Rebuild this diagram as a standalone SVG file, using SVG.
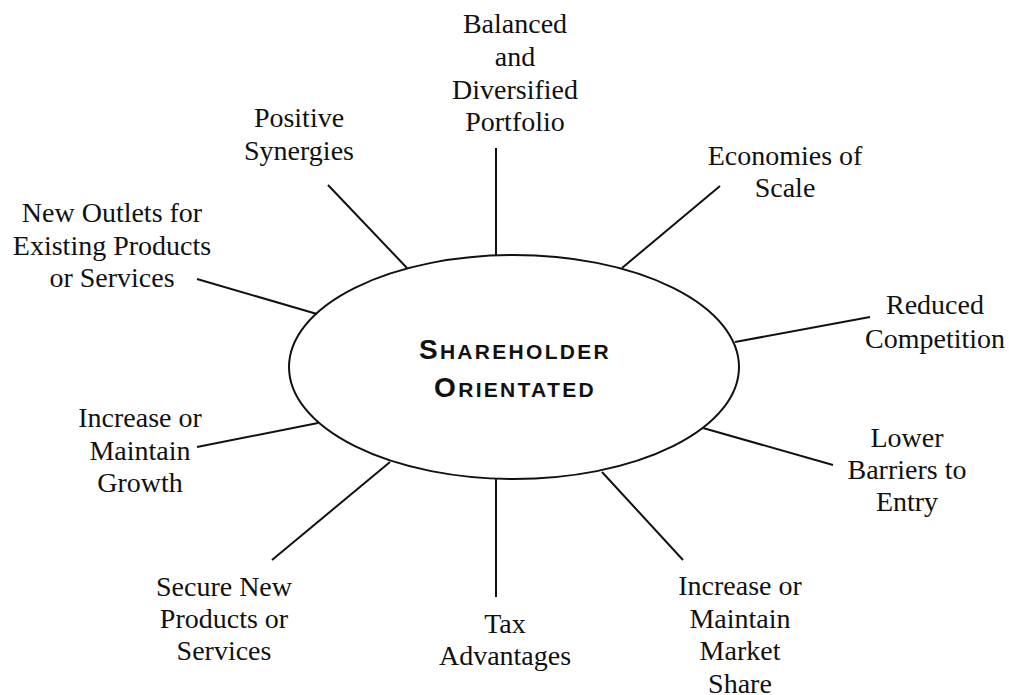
<svg xmlns="http://www.w3.org/2000/svg" width="1009" height="695" viewBox="0 0 1009 695">
<style>
.lbl{font-family:"Liberation Serif","Times New Roman",serif;font-size:28px;fill:#111;text-anchor:middle}
.ttl{font-family:"Liberation Sans",Arial,sans-serif;font-weight:bold;font-size:21px;fill:#111;text-anchor:middle;letter-spacing:2.3px}
.big{font-size:28px}
.ln{stroke:#111;stroke-width:2;fill:none}
</style>
<rect width="1009" height="695" fill="#fff"/>
<g id="connectors">
<line class="ln" x1="496" y1="148" x2="496" y2="256"/>
<line class="ln" x1="328" y1="185" x2="407" y2="268"/>
<line class="ln" x1="720" y1="186" x2="622" y2="268"/>
<line class="ln" x1="197" y1="279" x2="317" y2="314"/>
<line class="ln" x1="870" y1="317" x2="735" y2="342"/>
<line class="ln" x1="197" y1="447" x2="318" y2="423"/>
<line class="ln" x1="833" y1="465" x2="703" y2="428"/>
<line class="ln" x1="272" y1="560" x2="390" y2="462"/>
<line class="ln" x1="496" y1="479" x2="496" y2="597"/>
<line class="ln" x1="683" y1="560" x2="602" y2="472"/>
</g>
<g id="center">
<ellipse class="ln" cx="514" cy="367" rx="225" ry="112" fill="#fff"/>
<text class="ttl" x="515" y="359"><tspan class="big">S</tspan>HAREHOLDER</text>
<text class="ttl" x="515" y="397"><tspan class="big">O</tspan>RIENTATED</text>
</g>
<g id="balanced"><text class="lbl" x="515" y="33">Balanced</text><text class="lbl" x="515" y="66">and</text><text class="lbl" x="515" y="99">Diversified</text><text class="lbl" x="515" y="131">Portfolio</text></g>
<g id="synergies"><text class="lbl" x="299" y="127">Positive</text><text class="lbl" x="299" y="160">Synergies</text></g>
<g id="economies"><text class="lbl" x="785" y="165">Economies of</text><text class="lbl" x="785" y="197">Scale</text></g>
<g id="outlets"><text class="lbl" x="112" y="222">New Outlets for</text><text class="lbl" x="112" y="255">Existing Products</text><text class="lbl" x="112" y="287">or Services</text></g>
<g id="competition"><text class="lbl" x="935" y="314">Reduced</text><text class="lbl" x="935" y="348">Competition</text></g>
<g id="growth"><text class="lbl" x="140" y="427">Increase or</text><text class="lbl" x="140" y="460">Maintain</text><text class="lbl" x="140" y="492">Growth</text></g>
<g id="barriers"><text class="lbl" x="907" y="447">Lower</text><text class="lbl" x="907" y="479">Barriers to</text><text class="lbl" x="907" y="511">Entry</text></g>
<g id="secure"><text class="lbl" x="224" y="596">Secure New</text><text class="lbl" x="224" y="628">Products or</text><text class="lbl" x="224" y="660">Services</text></g>
<g id="tax"><text class="lbl" x="505" y="633">Tax</text><text class="lbl" x="505" y="665">Advantages</text></g>
<g id="market"><text class="lbl" x="740" y="595">Increase or</text><text class="lbl" x="740" y="628">Maintain</text><text class="lbl" x="740" y="660">Market</text><text class="lbl" x="740" y="693">Share</text></g>
</svg>
